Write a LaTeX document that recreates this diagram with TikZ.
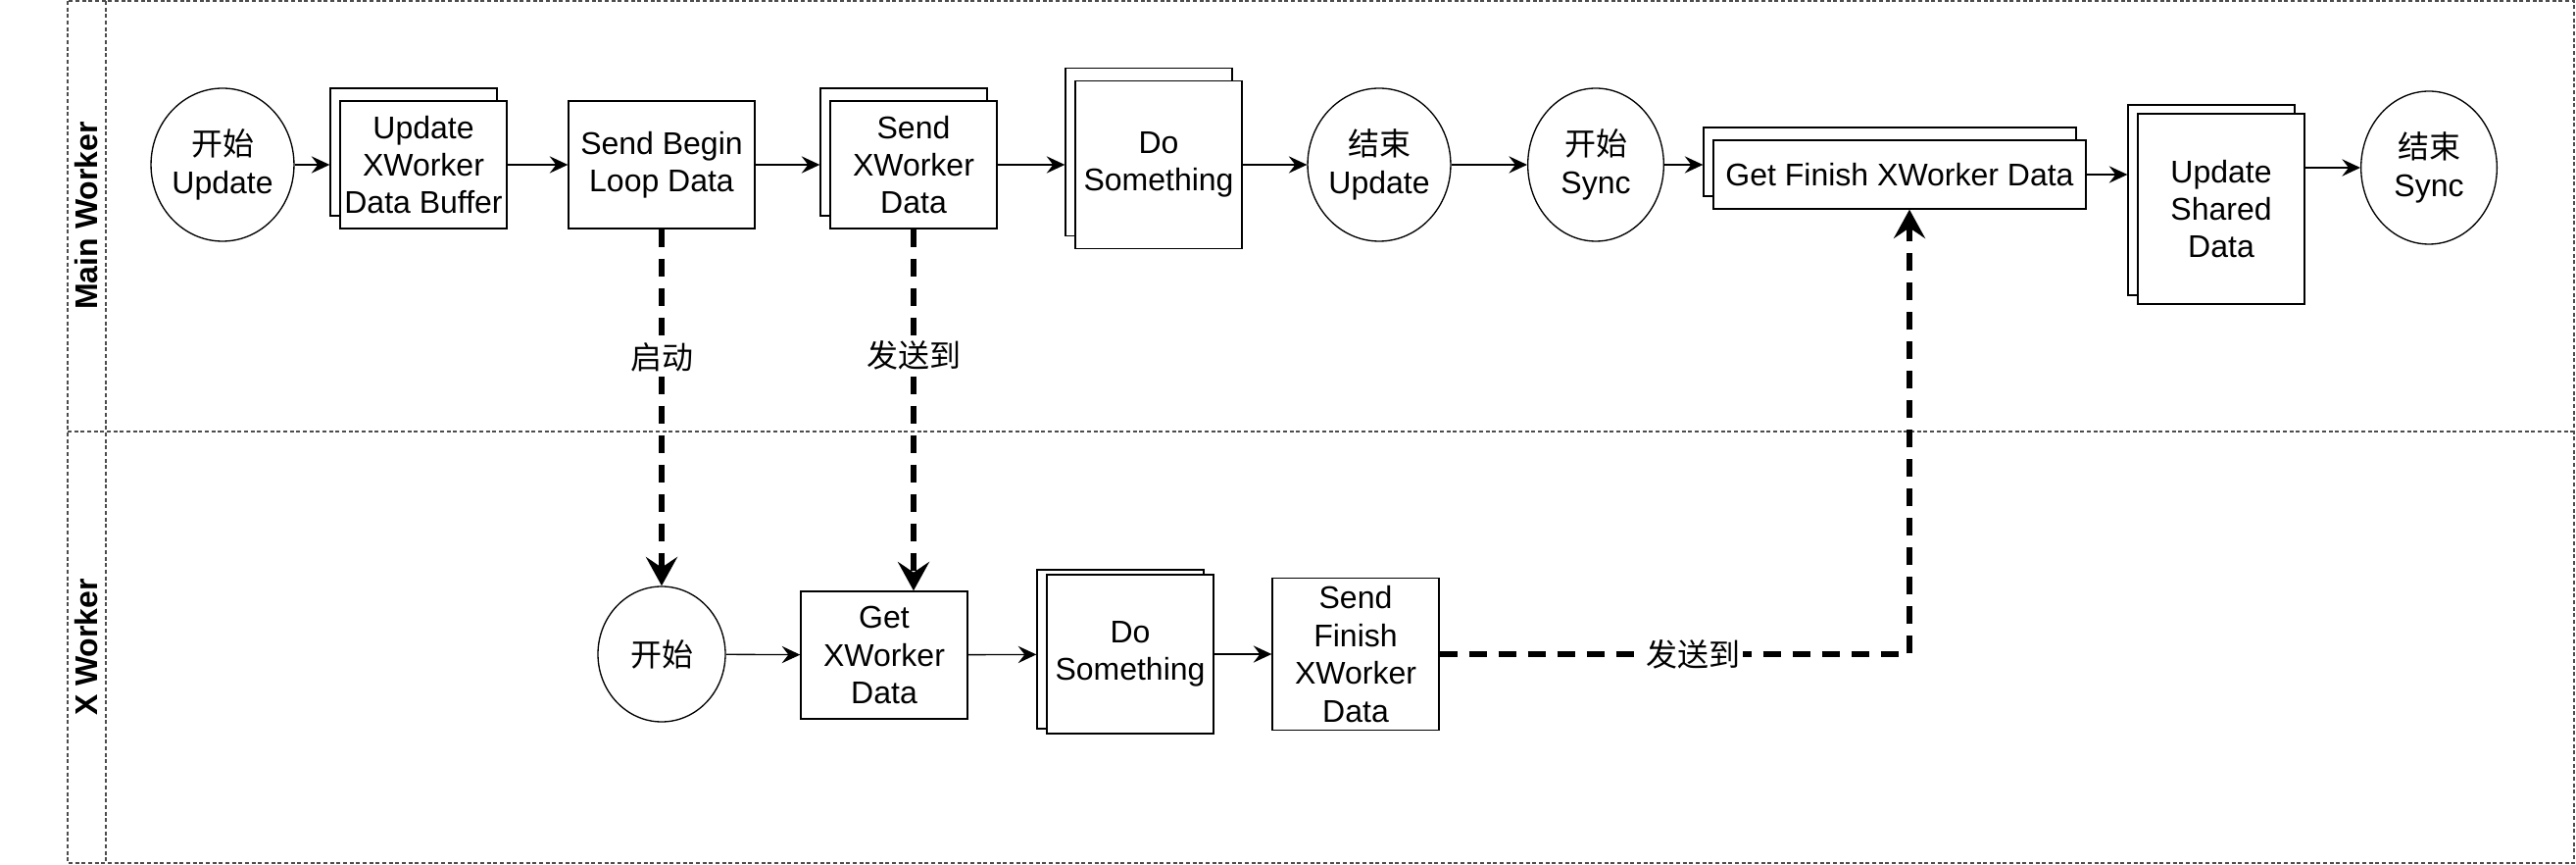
\documentclass[tikz,border=0pt]{standalone}
\usepackage{fontspec}
\setmainfont{Liberation Sans}
\newfontfamily\cjk{Noto Sans CJK SC}
\usetikzlibrary{arrows.meta,shapes.geometric,shadows}

\begin{document}
\begin{tikzpicture}[x=0.375pt, y=-0.375pt]
\tikzset{every node/.style = {font=\fontsize{12}{14.4}\selectfont, align=center}}
\tikzset{Terminal/.style = {shape=ellipse, draw, line width=0.5pt, inner sep=0pt, minimum width=52pt, minimum height=58.5pt}}
\tikzset{Task/.style = {shape=rectangle, draw, fill=white, line width=0.5pt, inner sep=0pt, minimum width=63.75pt, minimum height=48.75pt}}
\tikzset{Stack/.style = {Task, copy shadow={shadow xshift=-3.75pt, shadow yshift=#1}}, Stack/.default=4.9pt}
\tikzset{Flow/.style = {-{Stealth[length=7pt, width=6.5pt, inset=2.5pt]}, line width=0.5pt}}
\tikzset{ToStack/.style = {shorten >=3.75pt}}
\tikzset{Signal/.style = {-{Stealth[length=11pt, width=12pt, inset=4pt]}, line width=2.6pt, dash pattern=on 6.75pt off 4.5pt}}
\tikzset{Pool/.style = {draw=black!70, line width=0.4pt, dash pattern=on 1.5pt off 1pt}}
\tikzset{LaneLabel/.style = {rotate=90, font=\fontsize{12}{14.4}\selectfont\bfseries}}
	\useasboundingbox (0,0) rectangle (2628,882);

	\draw[Pool] (69,1) rectangle (2626,880);
	\draw[Pool] (108,1) -- (108,880);
	\draw[Pool] (69,440) -- (2626,440);
	\node[LaneLabel] (mainlbl) at (88,220) {Main Worker};
	\node[LaneLabel] (xlbl) at (88,660) {X Worker};

	\node[Terminal] (su) at (227,168) {{\cjk 开始}\\Update};
	\node[Stack] (buf) at (432,168) {Update\\XWorker\\Data Buffer};
	\node[Task, minimum width=71.25pt] (sbl) at (675,168) {Send Begin\\Loop Data};
	\node[Stack] (sxw) at (932,168) {Send\\XWorker\\Data};
	\node[Stack, minimum height=64pt] (do1) at (1182,168) {Do\\Something};
	\node[Terminal] (eu) at (1407,168) {{\cjk 结束}\\Update};
	\node[Terminal] (ss) at (1628,168) {{\cjk 开始}\\Sync};
	\node[Stack, minimum width=142.5pt, minimum height=26.25pt] (gfx) at (1938,178) {Get Finish XWorker Data};
	\node[Stack=3.4pt, minimum height=72.75pt] (usd) at (2266,213) {Update\\Shared\\Data};
	\node[Terminal] (es) at (2478,171) {{\cjk 结束}\\Sync};
	\draw[Flow, ToStack] (su) -- (buf);
	\draw[Flow] (buf) -- (sbl);
	\draw[Flow, ToStack] (sbl) -- (sxw);
	\draw[Flow, ToStack] (sxw) -- (do1);
	\draw[Flow] (do1) -- (eu);
	\draw[Flow] (eu) -- (ss);
	\draw[Flow, ToStack] (ss.east) -- (ss.east -| gfx.west);
	\draw[Flow, ToStack] (gfx.east) -- (gfx.east -| usd.west);
	\draw[Flow] (es -| usd.east) -- (es);

	\node[Terminal, minimum width=48.75pt, minimum height=51.75pt] (xs) at (675,667) {{\cjk 开始}};
	\node[Task] (gxw) at (902,668) {Get\\XWorker\\Data};
	\node[Stack=1.9pt, minimum height=60.75pt] (do2) at (1153,667) {Do\\Something};
	\node[Task, minimum height=58.1pt] (sfx) at (1383,667) {Send\\Finish\\XWorker\\Data};
	\draw[Flow] (xs) -- (gxw);
	\draw[Flow, ToStack] (gxw) -- (do2);
	\draw[Flow] (do2) -- (sfx);

	\draw[Signal] (sbl) -- node[fill=white, pos=0.36, inner sep=1pt] {\cjk 启动} (xs);
	\draw[Signal] (sxw) -- node[fill=white, pos=0.35, inner sep=1pt] {\cjk 发送到} (sxw |- gxw.north);
	\draw[Signal] (sfx) -| node[fill=white, pos=0.27, inner sep=1pt] {\cjk 发送到} ([xshift=3.75pt]gfx.south);
\end{tikzpicture}
\end{document}
